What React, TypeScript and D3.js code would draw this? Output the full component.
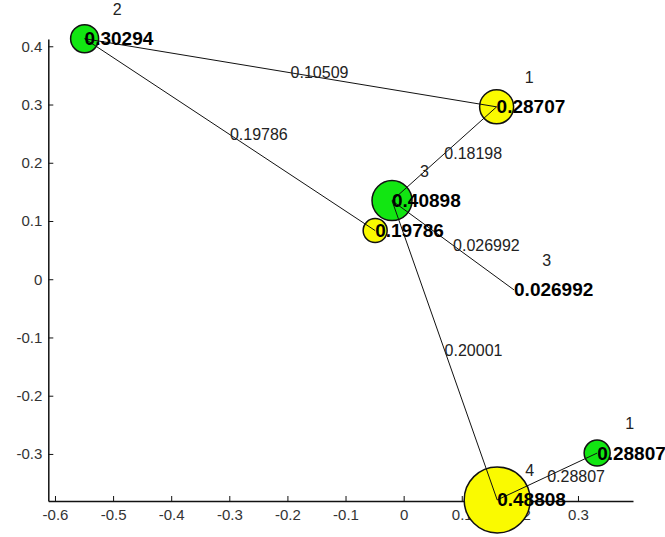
import React, { useRef, useEffect } from 'react';
import * as d3 from 'd3';

// node data (graph coordinates)
const nodeX = [-0.549, 0.16, -0.02, -0.049, 0.19, 0.161, 0.333];
const nodeY = [0.413, 0.296, 0.135, 0.0835, -0.0184, -0.379, -0.2985];
const nodeValue = ['0.30294', '0.28707', '0.40898', '0.19786', '0.026992', '0.48808', '0.28807'];
const nodeTag = ['2', '1', '3', '', '3', '4', '1'];
const nodeGroup = ['g', 'y', 'g', 'y', '', 'y', 'g'];
const nodeSize = [14, 17, 20, 12, 0, 33, 13];

// edges
const edgeFrom = [0, 0, 1, 2, 2, 5];
const edgeTo = [1, 3, 2, 4, 5, 6];
const edgeWeight = ['0.10509', '0.19786', '0.18198', '0.026992', '0.20001', '0.28807'];

const xTicks = [-0.6, -0.5, -0.4, -0.3, -0.2, -0.1, 0, 0.1, 0.2, 0.3];
const yTicks = [-0.3, -0.2, -0.1, 0, 0.1, 0.2, 0.3, 0.4];

export default function App() {
  const ref = useRef(null);

  useEffect(() => {
    const width = 665;
    const height = 537;
    const font = '"Liberation Sans", Arial, sans-serif';

    const svg = d3
      .select(ref.current)
      .call((g) => g.select('svg').remove())
      .append('svg')
      .attr('width', width)
      .attr('height', height)
      .style('position', 'absolute')
      .style('left', 0)
      .style('top', 0)
      .style('background', '#fff');

    const x = d3.scaleLinear().domain([-0.6115, 0.3947]).range([48.3, 633]);
    const y = d3.scaleLinear().domain([-0.3808, 0.4125]).range([501, 39]);

    const colors = { g: '#12e612', y: '#fafa00' };

    // axes
    const xAxis = svg
      .append('g')
      .attr('transform', `translate(0, ${y(-0.3808)})`)
      .call(
        d3.axisBottom(x)
          .tickValues(xTicks)
          .tickFormat((d) => String(d))
          .tickSizeInner(-5)
          .tickSizeOuter(0)
          .tickPadding(8)
      );
    const yAxis = svg
      .append('g')
      .attr('transform', `translate(${x(-0.6115)}, 0)`)
      .call(
        d3.axisLeft(y)
          .tickValues(yTicks)
          .tickFormat((d) => String(d))
          .tickSizeInner(-5)
          .tickSizeOuter(0)
          .tickPadding(6)
      );
    [xAxis, yAxis].forEach((a) => {
      a.select('.domain').attr('stroke', '#111').attr('stroke-width', 1.5);
      a.selectAll('.tick line').attr('stroke', '#111');
      a.selectAll('.tick text')
        .attr('font-family', font)
        .attr('font-size', 15)
        .attr('fill', '#333');
    });

    const nodes = nodeX.map((nx, i) => ({
      x: nx,
      y: nodeY[i],
      value: nodeValue[i],
      tag: nodeTag[i],
      group: nodeGroup[i],
      size: nodeSize[i],
    }));

    // node circles
    svg.append('g')
      .selectAll('circle')
      .data(nodes.filter((n) => n.size > 0))
      .join('circle')
      .attr('cx', (d) => x(d.x))
      .attr('cy', (d) => y(d.y))
      .attr('r', (d) => d.size)
      .attr('fill', (d) => colors[d.group])
      .attr('stroke', '#111')
      .attr('stroke-width', 1.5);

    const edges = edgeFrom.map((f, i) => ({
      a: nodes[f],
      b: nodes[edgeTo[i]],
      w: edgeWeight[i],
    }));

    svg.append('g')
      .selectAll('line')
      .data(edges)
      .join('line')
      .attr('x1', (d) => x(d.a.x))
      .attr('y1', (d) => y(d.a.y))
      .attr('x2', (d) => x(d.b.x))
      .attr('y2', (d) => y(d.b.y))
      .attr('stroke', '#111')
      .attr('stroke-width', 1);

    // edge weights at midpoints
    svg.append('g')
      .selectAll('text')
      .data(edges)
      .join('text')
      .attr('x', (d) => x((d.a.x + d.b.x) / 2))
      .attr('y', (d) => y((d.a.y + d.b.y) / 2))
      .attr('dominant-baseline', 'central')
      .attr('font-family', font)
      .attr('font-size', 16)
      .attr('fill', '#222')
      .text((d) => d.w);

    // node values
    svg.append('g')
      .selectAll('text')
      .data(nodes)
      .join('text')
      .attr('x', (d) => x(d.x))
      .attr('y', (d) => y(d.y))
      .attr('dominant-baseline', 'central')
      .attr('font-family', font)
      .attr('font-size', 19)
      .attr('font-weight', 'bold')
      .attr('fill', '#000')
      .text((d) => d.value);

    // node tags
    svg.append('g')
      .selectAll('text')
      .data(nodes.filter((n) => n.tag))
      .join('text')
      .attr('x', (d) => x(d.x + 0.056))
      .attr('y', (d) => y(d.y + 0.05))
      .attr('text-anchor', 'middle')
      .attr('dominant-baseline', 'central')
      .attr('font-family', font)
      .attr('font-size', 16)
      .attr('fill', '#222')
      .text((d) => d.tag);
  }, []);

  return <div ref={ref}></div>;
}
